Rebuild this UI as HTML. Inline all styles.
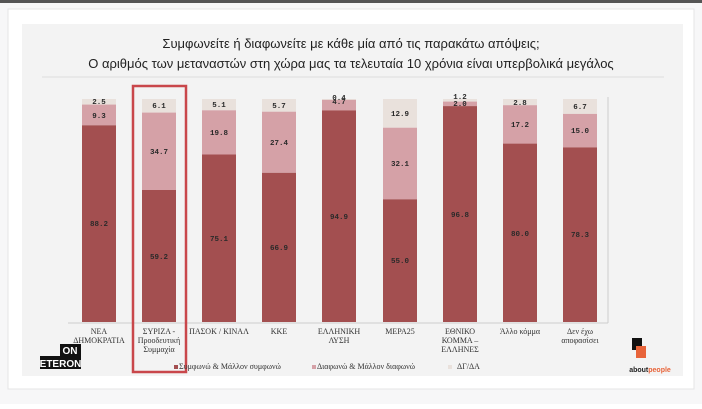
<!DOCTYPE html>
<html><head><meta charset="utf-8"><style>
body{margin:0;width:702px;height:404px;background:#fff;overflow:hidden}
</style></head><body>
<svg width="702" height="404" xmlns="http://www.w3.org/2000/svg" font-family="Liberation Sans, sans-serif">
<rect x="0" y="0" width="702" height="404" fill="#f7f7f8"/>
<rect x="0" y="0" width="702" height="3" fill="#555"/>
<rect x="8" y="9" width="686" height="380" fill="#fff" stroke="#e4e4e6"/>
<rect x="22" y="24" width="661" height="352" fill="#f3f3f3"/>
<text x="351" y="48" text-anchor="middle" font-size="13" fill="#222">Συμφωνείτε ή διαφωνείτε με κάθε μία από τις παρακάτω απόψεις;</text>
<text x="351" y="68" text-anchor="middle" font-size="13" fill="#222">Ο αριθμός των μεταναστών στη χώρα μας τα τελευταία 10 χρόνια είναι υπερβολικά μεγάλος</text>
<line x1="42" y1="77" x2="664" y2="77" stroke="#ddd"/>
<line x1="68" y1="323" x2="608" y2="323" stroke="#ccc"/>
<line x1="608" y1="97" x2="608" y2="323" stroke="#ccc"/>
<g>
<!-- bar1 -->
<rect x="82" y="99" width="34" height="6" fill="#e9e1dc"/><rect x="82" y="104.6" width="34" height="20.7" fill="#d5a1a7"/><rect x="82" y="125.3" width="34" height="196.7" fill="#a34f50"/>
<!-- bar2 -->
<rect x="142" y="99" width="34" height="13.6" fill="#e9e1dc"/><rect x="142" y="112.6" width="34" height="77.4" fill="#d5a1a7"/><rect x="142" y="190" width="34" height="132" fill="#a34f50"/>
<!-- bar3 -->
<rect x="202" y="99" width="34" height="11.3" fill="#e9e1dc"/><rect x="202" y="110.3" width="34" height="44.2" fill="#d5a1a7"/><rect x="202" y="154.5" width="34" height="167.5" fill="#a34f50"/>
<!-- bar4 -->
<rect x="262" y="99" width="34" height="12.7" fill="#e9e1dc"/><rect x="262" y="111.7" width="34" height="61.1" fill="#d5a1a7"/><rect x="262" y="172.8" width="34" height="149.2" fill="#a34f50"/>
<!-- bar5 -->
<rect x="322" y="99" width="34" height="1" fill="#e9e1dc"/><rect x="322" y="99.9" width="34" height="10.5" fill="#d5a1a7"/><rect x="322" y="110.4" width="34" height="211.6" fill="#a34f50"/>
<!-- bar6 -->
<rect x="383" y="99" width="34" height="28.7" fill="#e9e1dc"/><rect x="383" y="127.7" width="34" height="71.6" fill="#d5a1a7"/><rect x="383" y="199.3" width="34" height="122.7" fill="#a34f50"/>
<!-- bar7 -->
<rect x="443" y="99" width="34" height="2.6" fill="#e9e1dc"/><rect x="443" y="101.6" width="34" height="4.5" fill="#d5a1a7"/><rect x="443" y="106.1" width="34" height="215.9" fill="#a34f50"/>
<!-- bar8 -->
<rect x="503" y="99" width="34" height="6.2" fill="#e9e1dc"/><rect x="503" y="105.2" width="34" height="38.4" fill="#d5a1a7"/><rect x="503" y="143.6" width="34" height="178.4" fill="#a34f50"/>
<!-- bar9 -->
<rect x="563" y="99" width="34" height="14.9" fill="#e9e1dc"/><rect x="563" y="113.9" width="34" height="33.5" fill="#d5a1a7"/><rect x="563" y="147.4" width="34" height="174.6" fill="#a34f50"/>
</g>
<g font-family="Liberation Mono, monospace" font-size="7.5" font-weight="bold" fill="#2a2a2a" text-anchor="middle">
<text x="99" y="104">2.5</text><text x="99" y="118">9.3</text><text x="99" y="226">88.2</text>
<text x="159" y="108">6.1</text><text x="159" y="154">34.7</text><text x="159" y="259">59.2</text>
<text x="219" y="107">5.1</text><text x="219" y="135">19.8</text><text x="219" y="241">75.1</text>
<text x="279" y="108">5.7</text><text x="279" y="145">27.4</text><text x="279" y="250">66.9</text>
<text x="339" y="100">0.4</text><text x="339" y="104">4.7</text><text x="339" y="219">94.9</text>
<text x="400" y="116">12.9</text><text x="400" y="166">32.1</text><text x="400" y="263">55.0</text>
<text x="460" y="99">1.2</text><text x="460" y="106">2.0</text><text x="460" y="217">96.8</text>
<text x="520" y="105">2.8</text><text x="520" y="127">17.2</text><text x="520" y="236">80.0</text>
<text x="580" y="109">6.7</text><text x="580" y="133">15.0</text><text x="580" y="237">78.3</text>
</g>
<rect x="133" y="86" width="53" height="286" fill="none" stroke="#c9474b" stroke-width="2.5"/>
<g font-family="Liberation Serif, serif" font-size="8" fill="#333" text-anchor="middle">
<text x="99" y="334">ΝΕΑ</text><text x="99" y="343">ΔΗΜΟΚΡΑΤΙΑ</text>
<text x="159" y="334">ΣΥΡΙΖΑ -</text><text x="159" y="343">Προοδευτική</text><text x="159" y="352">Συμμαχία</text>
<text x="219" y="334">ΠΑΣΟΚ / ΚΙΝΑΛ</text>
<text x="279" y="334">ΚΚΕ</text>
<text x="339" y="334">ΕΛΛΗΝΙΚΗ</text><text x="339" y="343">ΛΥΣΗ</text>
<text x="400" y="334">ΜΕΡΑ25</text>
<text x="460" y="334">ΕΘΝΙΚΟ</text><text x="460" y="343">ΚΟΜΜΑ –</text><text x="460" y="352">ΕΛΛΗΝΕΣ</text>
<text x="520" y="334">Άλλο κόμμα</text>
<text x="580" y="334">Δεν έχω</text><text x="580" y="343">αποφασίσει</text>
</g>
<g font-family="Liberation Serif, serif" font-size="8" fill="#333">
<rect x="174" y="365" width="4" height="4" fill="#a34f50"/><text x="179" y="369">Συμφωνώ &amp; Μάλλον συμφωνώ</text>
<rect x="312" y="365" width="4" height="4" fill="#d5a1a7"/><text x="317" y="369">Διαφωνώ &amp; Μάλλον διαφωνώ</text>
<rect x="448" y="365" width="4" height="4" fill="#e9e1dc"/><text x="457" y="369">ΔΓ/ΔΑ</text>
</g>
<rect x="40" y="356" width="41" height="13" fill="#111"/>
<rect x="60" y="344" width="21" height="12" fill="#111"/>
<text x="70" y="354" text-anchor="middle" font-size="10" font-weight="bold" fill="#fff">ON</text>
<text x="60.5" y="367" text-anchor="middle" font-size="10" font-weight="bold" fill="#fff">ETERON</text>
<rect x="632" y="338" width="10" height="12" fill="#111"/>
<rect x="636" y="346" width="10" height="12" fill="#e8643a"/>
<text x="650" y="372" text-anchor="middle" font-size="7" font-weight="bold" fill="#222">about<tspan fill="#e8643a">people</tspan></text>
</svg>
</body></html>
